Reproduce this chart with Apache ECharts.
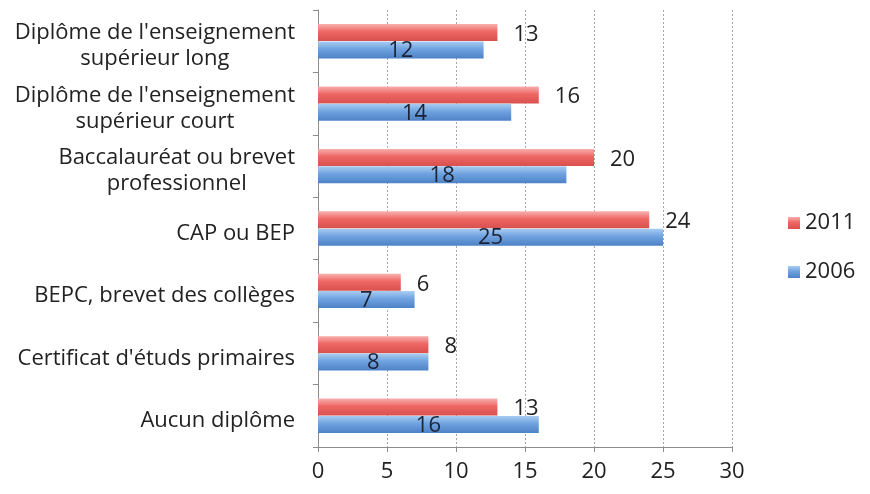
<!DOCTYPE html>
<html>
<head>
<meta charset="utf-8">
<script src="https://cdn.jsdelivr.net/npm/echarts@6/dist/echarts.min.js"></script>
<style>
  html, body { margin: 0; padding: 0; background: #fff; }
  #chart { width: 870px; height: 494px; }
</style>
</head>
<body>
<div id="chart"></div>
<script>
// Diplômes, parts en % pour 2011 et 2006
const categories = [
  "Diplôme de l'enseignement\nsupérieur long",
  "Diplôme de l'enseignement\nsupérieur court",
  "Baccalauréat ou brevet\nprofessionnel",
  "CAP ou BEP",
  "BEPC, brevet des collèges",
  "Certificat d'étuds primaires",
  "Aucun diplôme"
];
const values2011 = [13, 16, 20, 24, 6, 8, 13];
const values2006 = [12, 14, 18, 25, 7, 8, 16];
const seriesNames = ["2011", "2006"];
const xTicks = { min: 0, max: 30, interval: 5 };

const FONT = "Open Sans";
const FS = 22;

function grad(top, mid, bottom) {
  return new echarts.graphic.LinearGradient(0, 0, 0, 1, [
    { offset: 0, color: top },
    { offset: 0.45, color: mid },
    { offset: 1, color: bottom }
  ]);
}

const chart = echarts.init(document.getElementById('chart'), null, { renderer: 'canvas' });
chart.setOption({
  animation: false,
  textStyle: { fontFamily: FONT },
  grid: { left: 318, right: 138, top: 10, bottom: 47, containLabel: false },
  legend: {
    orient: 'vertical',
    left: 788,
    top: 212,
    padding: 0,
    itemWidth: 12,
    itemHeight: 12,
    itemGap: 27,
    icon: 'rect',
    textStyle: { fontFamily: FONT, fontSize: FS, color: '#222' },
    data: seriesNames
  },
  xAxis: {
    type: 'value',
    min: xTicks.min,
    max: xTicks.max,
    interval: xTicks.interval,
    axisLine: { show: true, lineStyle: { color: '#8c8c8c' } },
    axisTick: { show: true, length: 5, lineStyle: { color: '#8c8c8c' } },
    axisLabel: { fontFamily: FONT, fontSize: FS, color: '#222', margin: 14 },
    splitLine: { show: true, lineStyle: { color: '#a6a6a6', type: [2, 2], width: 1 } }
  },
  yAxis: {
    type: 'category',
    inverse: true,
    data: categories,
    axisLine: { show: true, lineStyle: { color: '#8c8c8c' } },
    axisTick: { show: true, length: 5, inside: false, lineStyle: { color: '#8c8c8c' } },
    axisLabel: {
      margin: 23,
      padding: [10, 0, 0, 0],
      formatter: v => v.split('\n').map(l => '{c|' + l + '}').join('\n'),
      rich: {
        c: { fontFamily: FONT, fontSize: FS, color: '#222', align: 'center', lineHeight: 26 }
      }
    }
  },
  series: [
    {
      name: seriesNames[0],
      type: 'bar',
      data: values2011,
      barWidth: 17,
      barGap: '2%',
      itemStyle: { color: grad('#f7b0ae', '#ee6764', '#d9504d') },
      label: {
        show: true, position: 'right', distance: 16, offset: [0, 2],
        fontFamily: FONT, fontSize: FS, color: '#222'
      }
    },
    {
      name: seriesNames[1],
      type: 'bar',
      data: values2006,
      barWidth: 17,
      itemStyle: { color: grad('#a9cdf2', '#6fa2df', '#4d82c6') },
      label: {
        show: true, position: 'inside', offset: [0, 1],
        fontFamily: FONT, fontSize: FS, color: '#1b2335'
      }
    }
  ]
});
</script>
</body>
</html>
